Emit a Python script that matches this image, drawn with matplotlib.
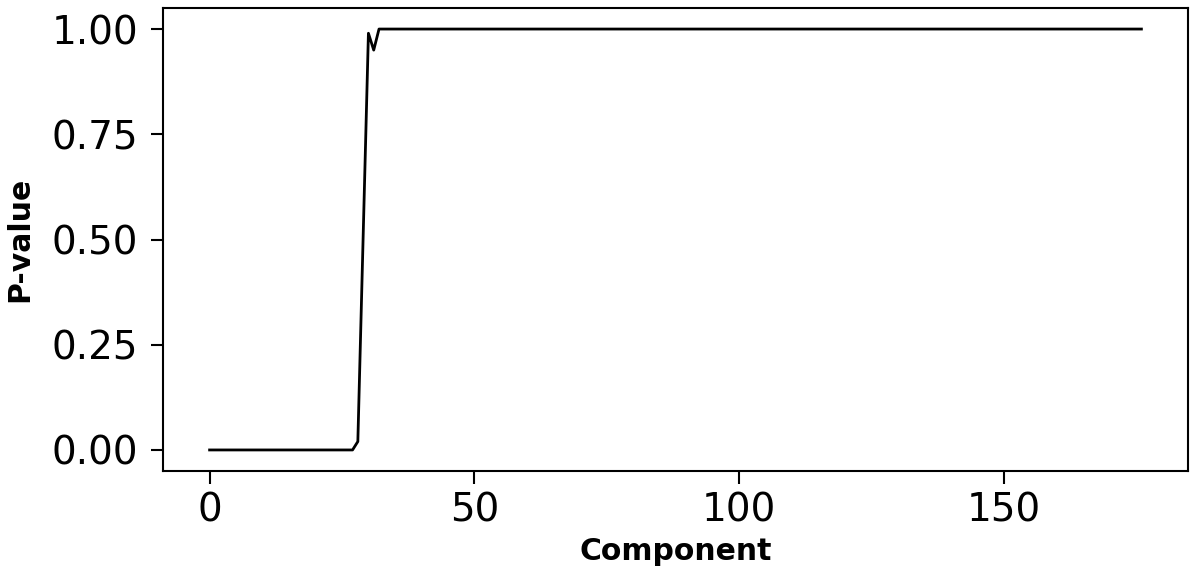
import matplotlib
matplotlib.use("Agg")
import matplotlib.pyplot as plt

# P-values per component
pvalues_low = [0.0] * 28                      # components 0..27
pvalues_transition = [0.02, 0.50, 0.99, 0.95] # components 28..31
pvalues_high = [1.0] * 145                    # components 32..176
pvalues = pvalues_low + pvalues_transition + pvalues_high
components = list(range(len(pvalues)))

xticks = [0, 50, 100, 150]
yticks = [0.00, 0.25, 0.50, 0.75, 1.00]
ytick_labels = ["0.00", "0.25", "0.50", "0.75", "1.00"]

fig = plt.figure(figsize=(12, 5.77), dpi=100)
ax = fig.add_axes([163/1200, 1 - 471/577, (1188 - 163)/1200, (471 - 8)/577])
ax.plot(components, pvalues, color="black", linewidth=2.0)
ax.set_xticks(xticks)
ax.set_yticks(yticks)
ax.set_yticklabels(ytick_labels)
ax.tick_params(labelsize=28, length=9, width=1.5)
ax.tick_params(axis="y", pad=9)
ax.tick_params(axis="x", pad=6)
for s in ax.spines.values():
    s.set_linewidth(1.5)
ax.set_xlabel("Component", fontsize=21.5, fontweight="bold", labelpad=5)
ax.set_ylabel("P-value", fontsize=21.5, fontweight="bold", labelpad=12)
fig.savefig("out.png", dpi=100)
